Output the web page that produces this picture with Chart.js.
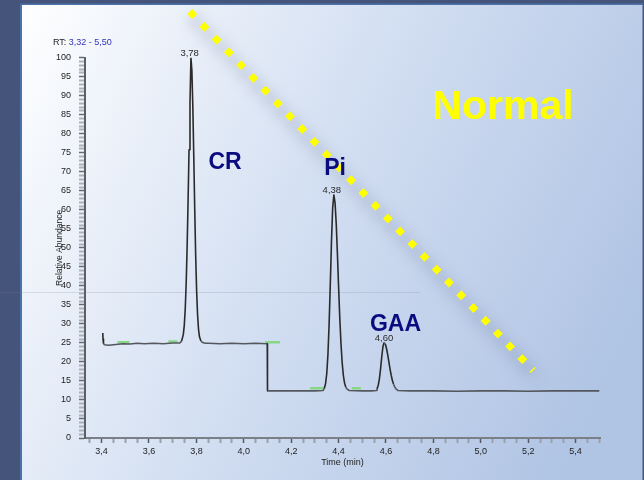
<!DOCTYPE html>
<html><head><meta charset="utf-8">
<script src="https://cdn.jsdelivr.net/npm/chart.js@4/dist/chart.umd.min.js"></script>
<style>html,body{margin:0;padding:0;background:#44547a;overflow:hidden}canvas{display:block}</style>
</head><body>
<canvas id="c" width="644" height="480"></canvas>
<script>
// ---- data ----
const times = [
  3.405, 3.406, 3.408, 3.412, 3.43, 3.46, 3.49, 3.52, 3.55, 3.58, 3.62, 3.66, 3.70, 3.73,
  3.737, 3.741, 3.745, 3.749, 3.753, 3.757, 3.761, 3.765, 3.769, 3.773, 3.777,
  3.781, 3.785, 3.789, 3.793, 3.797, 3.801, 3.805, 3.809, 3.813, 3.819, 3.827, 3.838,
  3.85, 3.90, 3.95, 4.00, 4.05, 4.099,
  4.100, 4.15, 4.20, 4.25, 4.30, 4.335,
  4.340, 4.345, 4.350, 4.355, 4.360, 4.365, 4.370, 4.375, 4.380, 4.385, 4.390, 4.395, 4.400,
  4.405, 4.410, 4.415, 4.420, 4.425, 4.430, 4.435, 4.445, 4.50, 4.540, 4.560,
  4.562, 4.567, 4.572, 4.577, 4.582, 4.587, 4.592, 4.597, 4.602, 4.607, 4.612, 4.617, 4.622,
  4.627, 4.632, 4.637, 4.642, 4.650, 4.70, 4.80, 4.90, 5.00, 5.10, 5.20, 5.30, 5.40, 5.50
];
const abundance = [
  27.6, 26.0, 24.9, 24.5, 24.4, 24.6, 24.8, 24.7, 24.9, 24.8, 24.9, 24.8, 25.0, 25.0,
  25.4, 26.3, 27.3, 29.7, 34.0, 40.8, 50.4, 62.5, 75.8, 88.1, 100.0,
  96.6, 87.1, 74.0, 60.2, 48.0, 38.7, 32.4, 28.6, 26.6, 25.5, 25.1, 24.9,
  24.9, 24.8, 24.9, 24.8, 24.9, 24.8,
  12.4, 12.4, 12.4, 12.4, 12.4, 12.5,
  13.1, 14.3, 16.9, 21.9, 29.9, 40.4, 51.7, 60.5, 63.9, 61.9, 56.4, 48.5, 39.8,
  31.6, 24.9, 19.9, 16.5, 14.5, 13.4, 12.9, 12.5, 12.4, 12.4, 12.5,
  12.9, 13.8, 15.5, 18.1, 21.3, 24.0, 25.1, 24.7, 23.6, 22.0, 20.1, 18.2, 16.5,
  15.1, 14.1, 13.4, 12.9, 12.5, 12.4, 12.4, 12.3, 12.4, 12.4, 12.3, 12.4, 12.4, 12.4
];
const peakTimes = [3.78, 4.38, 4.60];
const peakHeights = [100, 63.9, 25.1];
const peakLabels = ['3,78', '4,38', '4,60'];
const compoundNames = ['CR', 'Pi', 'GAA'];
const compoundTimes = [3.921, 4.385, 4.640];
const compoundLevels = [70.8, 69.1, 28.1];
const statusText = 'Normal';
const rangeLabel = ['RT: ', '3,32 - 5,50'];
const markStart = [3.467, 3.682, 4.090, 4.280, 4.456];
const markEnd = [3.518, 3.720, 4.153, 4.336, 4.494];
const markLevel = [25.2, 25.4, 25.2, 13.1, 13.1];
const guideX = [3.772, 5.221];
const guideY = [112.15, 17.75];
const xTickValues = [3.4, 3.6, 3.8, 4.0, 4.2, 4.4, 4.6, 4.8, 5.0, 5.2, 5.4];
const xTickText = ['3,4', '3,6', '3,8', '4,0', '4,2', '4,4', '4,6', '4,8', '5,0', '5,2', '5,4'];
const yTickValues = [0, 5, 10, 15, 20, 25, 30, 35, 40, 45, 50, 55, 60, 65, 70, 75, 80, 85, 90, 95, 100];

// ---- helpers ----
const FONT = 'Liberation Sans, Arial, sans-serif';
function xLabel(v) {
  const i = xTickValues.findIndex(t => Math.abs(t - v) < 1e-6);
  return i >= 0 ? xTickText[i] : '';
}
function isMajorX(v) { return xTickValues.some(t => Math.abs(t - v) < 1e-6); }
function isMajorY(v) { return yTickValues.some(t => Math.abs(t - v) < 1e-6); }

const markData = [];
markStart.forEach((s, i) => {
  markData.push({x: s, y: markLevel[i]});
  markData.push({x: markEnd[i], y: markLevel[i]});
  markData.push({x: (markEnd[i] + (markStart[i + 1] || markEnd[i] + 0.01)) / 2, y: null});
});

const bgPlugin = {
  id: 'bg',
  beforeDraw(chart) {
    const c = chart.ctx;
    c.save();
    c.fillStyle = '#44547a';
    c.fillRect(0, 0, 644, 480);
    const g = c.createLinearGradient(22, 5, 642, 300);
    g.addColorStop(0, '#ffffff');
    g.addColorStop(0.15, '#f1f5fb');
    g.addColorStop(0.5, '#d3dff2');
    g.addColorStop(1, '#b0c4e4');
    c.fillStyle = g;
    c.fillRect(22, 5, 620.5, 475);
    c.fillStyle = '#4c72aa';
    c.fillRect(20, 5, 2, 475);
    c.fillRect(20, 3.5, 623, 1.5);
    c.strokeStyle = 'rgba(120,130,155,0.22)';
    c.lineWidth = 1;
    c.beginPath(); c.moveTo(0, 292.5); c.lineTo(420, 292.5); c.stroke();
    c.restore();
  }
};

const shadowPlugin = {
  id: 'shadow',
  beforeDatasetDraw(chart, args) {
    if (args.index === 0) {
      const c = chart.ctx;
      c.save();
      c.shadowColor = 'rgba(60,70,105,0.6)';
      c.shadowBlur = 14;
      c.shadowOffsetX = 4;
      c.shadowOffsetY = 8;
    }
  },
  afterDatasetDraw(chart, args) {
    if (args.index === 0) chart.ctx.restore();
  }
};

const textPlugin = {
  id: 'texts',
  afterDraw(chart) {
    const c = chart.ctx, xs = chart.scales.x, ys = chart.scales.y;
    c.save();
    c.fillStyle = '#2a2a2a';
    c.font = '9.5px ' + FONT;
    c.textAlign = 'center';
    c.textBaseline = 'alphabetic';
    peakTimes.forEach((t, i) => {
      c.fillText(peakLabels[i], xs.getPixelForValue(t) - 2, ys.getPixelForValue(peakHeights[i]) - 2);
    });
    c.fillStyle = '#0b0b80';
    c.font = 'bold 23px ' + FONT;
    compoundNames.forEach((n, i) => {
      c.fillText(n, xs.getPixelForValue(compoundTimes[i]), ys.getPixelForValue(compoundLevels[i]));
    });
    c.fillStyle = '#ffff00';
    c.font = 'bold 41px ' + FONT;
    c.fillText(statusText, 503, 118.5);
    c.font = '9px ' + FONT;
    c.textAlign = 'left';
    c.fillStyle = '#222';
    c.fillText(rangeLabel[0], 53, 44.5);
    const w = c.measureText(rangeLabel[0]).width;
    c.fillStyle = '#3333b8';
    c.fillText(rangeLabel[1], 53 + w, 44.5);
    c.restore();
  }
};

new Chart(document.getElementById('c'), {
  type: 'line',
  data: {
    datasets: [
      {
        label: 'guide',
        data: guideX.map((x, i) => ({x, y: guideY[i]})),
        borderColor: '#ffff00', borderWidth: 7, borderDash: [7, 10.69], borderCapStyle: 'butt',
        pointRadius: 0, fill: false, clip: false, order: -1, tension: 0
      },
      {
        label: 'trace',
        data: times.map((t, i) => ({x: t, y: abundance[i]})),
        borderColor: '#2c2c2c', borderWidth: 1.6, pointRadius: 0, fill: false, tension: 0, order: 0,
        borderJoinStyle: 'round',
        segment: {
          borderColor: s => (Math.abs(s.p0.parsed.y - s.p1.parsed.y) < 0.8 ? '#54575d' : '#2a2a2a')
        }
      },
      {
        label: 'marks',
        data: markData,
        borderColor: '#86d886', borderWidth: 2.5, pointRadius: 0, fill: false, spanGaps: false, order: 1
      }
    ]
  },
  options: {
    responsive: false, animation: false, devicePixelRatio: 1,
    layout: {padding: {top: 57.7, right: 44, left: 0, bottom: 0}},
    plugins: {legend: {display: false}, tooltip: {enabled: false}},
    scales: {
      x: {
        type: 'linear', min: 3.33, max: 5.503,
        border: {display: true, color: '#7a7f88', width: 2},
        grid: {
          drawOnChartArea: false, drawTicks: true, tickLength: 5,
          color: c => (isMajorX(c.tick.value) ? '#555a62' : '#9aa0aa'),
          tickWidth: c => (isMajorX(c.tick.value) ? 1.5 : 2)
        },
        ticks: {
          stepSize: 0.05, autoSkip: false, maxRotation: 0, minRotation: 0, includeBounds: false,
          padding: 3, color: '#222', font: {family: FONT, size: 9},
          callback: v => xLabel(v)
        },
        title: {display: true, text: 'Time (min)', color: '#222', font: {family: FONT, size: 9}, padding: {top: 0, bottom: 11.6}},
        afterFit: s => { s.height = 42; }
      },
      y: {
        type: 'linear', min: 0, max: 100,
        border: {display: true, color: '#5a5f68', width: 2},
        grid: {
          drawOnChartArea: false, drawTicks: true, tickLength: 6,
          color: c => (isMajorY(c.tick.value) ? '#666b73' : '#abb0b9'),
          tickWidth: c => (isMajorY(c.tick.value) ? 1.5 : 2)
        },
        ticks: {
          stepSize: 1, autoSkip: false, includeBounds: false, padding: 8, color: '#222',
          font: {family: FONT, size: 9},
          callback: v => (isMajorY(v) ? String(v) : '')
        },
        title: {display: true, text: 'Relative Abundance', color: '#222', font: {family: FONT, size: 8.5}, padding: {top: 54.6, bottom: 0}},
        afterFit: s => { s.width = 85; }
      }
    }
  },
  plugins: [bgPlugin, shadowPlugin, textPlugin]
});
</script>
</body></html>
